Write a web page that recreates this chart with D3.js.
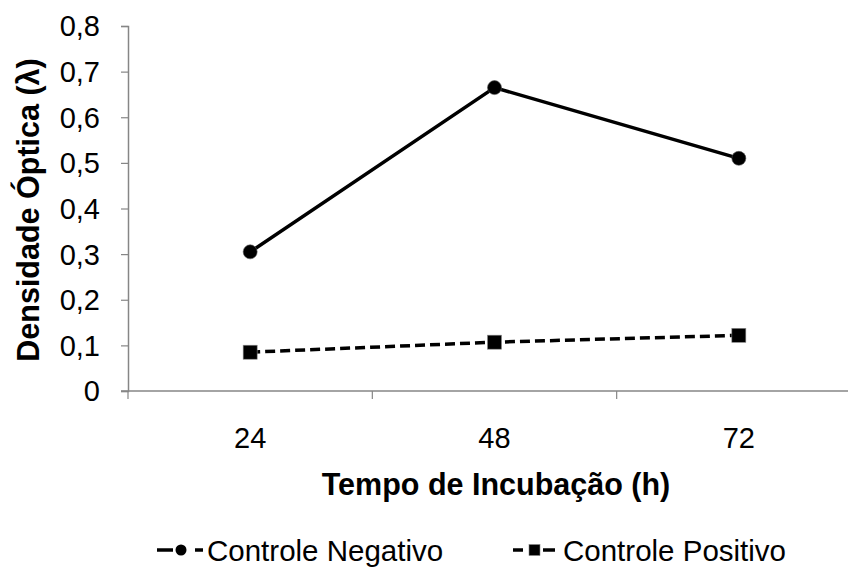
<!DOCTYPE html>
<html lang="pt">
<head>
<meta charset="utf-8">
<title>Densidade Óptica</title>
<script src="https://cdn.jsdelivr.net/npm/d3@7"></script>
<style>
  body { margin: 0; background: #fff; }
  text { font-family: "Liberation Sans", Arial, sans-serif; fill: #000; }
</style>
</head>
<body>
<script>
var categories = ["24", "48", "72"];
var negativo = [0.305, 0.665, 0.51];
var positivo = [0.085, 0.107, 0.122];
var yTicks = [0, 0.1, 0.2, 0.3, 0.4, 0.5, 0.6, 0.7, 0.8];
var seriesNames = ["Controle Negativo", "Controle Positivo"];

var w = 848, h = 568;
var mLeft = 128, mRight = 861, mTop = 26, mBottom = 391;

var svg = d3.select("body").append("svg")
  .attr("width", w).attr("height", h);

var xScale = d3.scaleBand().domain(categories).range([mLeft, mRight]);
var yScale = d3.scaleLinear().domain([0, 0.8]).range([mBottom, mTop]);
var fmt = function(d) { return d === 0 ? "0" : d3.format(".1f")(d).replace(".", ","); };

// y axis
var yAxis = svg.append("g").attr("transform", "translate(" + mLeft + ",0)")
  .call(d3.axisLeft(yScale).tickValues(yTicks).tickFormat(fmt).tickSize(7).tickPadding(21));
yAxis.select(".domain").attr("stroke", "#868686").attr("stroke-width", 1.5);
yAxis.selectAll(".tick line").attr("stroke", "#868686").attr("stroke-width", 1.2);
yAxis.selectAll(".tick text").attr("font-size", "29px").attr("dy", "0.34em")
  .attr("font-family", "Liberation Sans, Arial, sans-serif").attr("fill", "#000");

// x axis, ticks between categories
var xAxisG = svg.append("g").attr("transform", "translate(0," + mBottom + ")");
xAxisG.append("line").attr("x1", mLeft - 7).attr("x2", mRight)
  .attr("stroke", "#868686").attr("stroke-width", 1.5);
var bounds = categories.map(function(c) { return xScale(c); });
bounds.push(mRight);
xAxisG.selectAll("line.tk").data(bounds).enter().append("line")
  .attr("class", "tk")
  .attr("x1", function(d) { return d; }).attr("x2", function(d) { return d; })
  .attr("y1", 0).attr("y2", 8)
  .attr("stroke", "#868686").attr("stroke-width", 1.2);
xAxisG.selectAll("text").data(categories).enter().append("text")
  .attr("x", function(d) { return xScale(d) + xScale.bandwidth() / 2; })
  .attr("y", 57)
  .attr("text-anchor", "middle").attr("font-size", "29px")
  .text(function(d) { return d; });

// titles
svg.append("text")
  .attr("transform", "translate(39,210) rotate(-90)")
  .attr("text-anchor", "middle").attr("font-size", "30.5px").attr("font-weight", "bold")
  .text("Densidade Óptica (λ)");
svg.append("text")
  .attr("x", 496).attr("y", 495)
  .attr("text-anchor", "middle").attr("font-size", "30.5px").attr("font-weight", "bold")
  .text("Tempo de Incubação (h)");

var cx = function(d, i) { return xScale(categories[i]) + xScale.bandwidth() / 2; };
var line = d3.line().x(cx).y(function(d) { return yScale(d); });

svg.append("path").datum(negativo).attr("d", line)
  .attr("fill", "none").attr("stroke", "#000").attr("stroke-width", 3.5);
svg.append("path").datum(positivo).attr("d", line)
  .attr("fill", "none").attr("stroke", "#000").attr("stroke-width", 3.5)
  .attr("stroke-dasharray", "10,5");

svg.selectAll("circle.neg").data(negativo).enter().append("circle")
  .attr("class", "neg").attr("cx", cx).attr("cy", function(d) { return yScale(d); })
  .attr("r", 7).attr("fill", "#000").attr("stroke", "#555").attr("stroke-width", 0.6);
svg.selectAll("rect.pos").data(positivo).enter().append("rect")
  .attr("class", "pos")
  .attr("x", function(d, i) { return cx(d, i) - 7; })
  .attr("y", function(d) { return yScale(d) - 7; })
  .attr("width", 14).attr("height", 14)
  .attr("fill", "#000").attr("stroke", "#888").attr("stroke-width", 0.6);

// legend
var leg = svg.append("g").attr("transform", "translate(0,550)");
var l1 = leg.append("g").attr("transform", "translate(157,0)");
l1.append("line").attr("x1", 0).attr("x2", 16).attr("y1", 0).attr("y2", 0)
  .attr("stroke", "#000").attr("stroke-width", 3.5);
l1.append("line").attr("x1", 38).attr("x2", 46).attr("y1", 0).attr("y2", 0)
  .attr("stroke", "#000").attr("stroke-width", 3.5);
l1.append("circle").attr("cx", 24).attr("cy", 0).attr("r", 5.5).attr("fill", "#000");
l1.append("text").attr("x", 50).attr("y", 11).attr("font-size", "29.5px").text(seriesNames[0]);

var l2 = leg.append("g").attr("transform", "translate(513,0)");
l2.append("line").attr("x1", 0).attr("x2", 10).attr("y1", 0).attr("y2", 0)
  .attr("stroke", "#000").attr("stroke-width", 3.5);
l2.append("line").attr("x1", 30).attr("x2", 42).attr("y1", 0).attr("y2", 0)
  .attr("stroke", "#000").attr("stroke-width", 3.5);
l2.append("rect").attr("x", 16).attr("y", -5.5).attr("width", 11).attr("height", 11)
  .attr("fill", "#000").attr("stroke", "#888").attr("stroke-width", 0.6);
l2.append("text").attr("x", 50).attr("y", 11).attr("font-size", "29.5px").text(seriesNames[1]);
</script>
</body>
</html>
